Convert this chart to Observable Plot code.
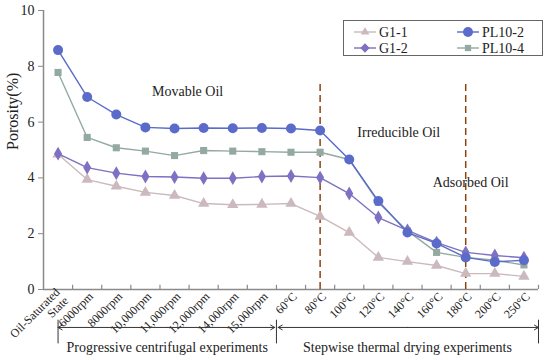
<!DOCTYPE html>
<html><head><meta charset="utf-8">
<script src="https://cdn.jsdelivr.net/npm/d3@7"></script>
<script src="https://cdn.jsdelivr.net/npm/@observablehq/plot@0.6"></script>
<style>
body{margin:0;background:#fff;}
#wrap{position:relative;width:550px;height:360px;font-family:'Liberation Serif','Times New Roman',serif;}
#wrap svg text{font-family:'Liberation Serif','Times New Roman',serif;}
#legend{position:absolute;left:343px;top:20px;width:200px;height:36px;border:1px solid #666;background:#fff;box-sizing:border-box}
</style></head><body>
<div id="wrap"><div id="chart"></div><div id="legend"></div></div>
<script>
const categories = ["Oil-Saturated\nState","6000rpm","8000rpm","10,000rpm","11,000rpm","12,000rpm","14,000rpm","15,000rpm","60°C","80°C","100°C","120°C","140°C","160°C","180°C","200°C","250°C"];
const seriesNames = ["G1-1","G1-2","PL10-2","PL10-4"];
const g1_1  = [4.85,3.94,3.70,3.48,3.37,3.08,3.04,3.05,3.08,2.62,2.04,1.15,1.00,0.86,0.57,0.57,0.47];
const g1_2  = [4.87,4.37,4.17,4.05,4.03,3.99,3.99,4.05,4.07,4.01,3.44,2.58,2.12,1.68,1.33,1.22,1.14];
const pl10_2 = [8.58,6.90,6.27,5.81,5.77,5.79,5.78,5.79,5.77,5.70,4.66,3.17,2.04,1.65,1.15,0.99,1.05];
const pl10_4 = [7.78,5.45,5.08,4.96,4.80,4.98,4.96,4.94,4.92,4.92,4.66,3.12,2.10,1.33,1.15,1.05,0.88];
const yTicks = [0,2,4,6,8,10];
const seriesValues = {"G1-1": g1_1, "G1-2": g1_2, "PL10-2": pl10_2, "PL10-4": pl10_4};
const seriesColors = {"G1-1":"#cbb9bd","G1-2":"#7e70c2","PL10-2":"#5a6bca","PL10-4":"#93a9a2"};
const seriesSymbols = {"G1-1":"triangle","G1-2":"diamond","PL10-2":"circle","PL10-4":"square"};
const seriesR = {"G1-1":4.2,"G1-2":4.2,"PL10-2":5,"PL10-4":4};
const drawOrder = ["G1-1","PL10-4","G1-2","PL10-2"];
const dividers = [{i: 9, top: 7.4}, {i: 14, top: 7.4}];
const regionLabels = [
  {x: 4.45, y: 7.08, text: "Movable Oil", anchor: "middle"},
  {x: 11.7, y: 5.63, text: "Irreducible Oil", anchor: "middle"},
  {x: 14.17, y: 3.83, text: "Adsorbed Oil", anchor: "start"}
];
const brackets = [
  {x1: 0, x2: 7.5, label: "Progressive centrifugal experiments"},
  {x1: 7.5, x2: 16.5, label: "Stepwise thermal drying experiments"}
];
const bracketY = -1.36, bracketTop = -1.1, bracketBottom = -1.95, bracketTextY = -2.08;
const FONT = "'Liberation Serif','Times New Roman',serif";

const rows = [];
for (const s of seriesNames) seriesValues[s].forEach((v, i) => rows.push({series: s, i, value: v}));
const boundaries = d3.range(17).map(i => i + 0.5);

const marks = [
  Plot.ruleY([0], {stroke: "#8a8a8a", strokeWidth: 1.5}),
  Plot.ruleX([-0.5], {y1: 0, y2: 10, stroke: "#8a8a8a", strokeWidth: 1.5}),
  Plot.ruleX(boundaries, {y1: 0, y2: 0.15, stroke: "#8a8a8a", strokeWidth: 1.2}),
  Plot.axisY({ticks: yTicks, tickSize: 5, tickPadding: 4, label: null, fontSize: 14, stroke: "#8a8a8a", fontFamily: FONT}),
  Plot.axisX({ticks: d3.range(17), tickSize: 0, tickPadding: 5, dx: 4, tickRotate: -45, tickFormat: i => categories[i], label: null, fontSize: 12, fontFamily: FONT}),
  Plot.text(["Porosity(%)"], {frameAnchor: "left", rotate: -90, dx: -31, fontSize: 16, fill: "#222", fontFamily: FONT}),
  Plot.ruleX(dividers, {x: "i", y1: 0, y2: "top", stroke: "#8b4513", strokeWidth: 1.5, strokeDasharray: "7,4"}),
  Plot.text(regionLabels, {x: "x", y: "y", text: "text", textAnchor: d => d.anchor, fontSize: 14, fill: "#222", fontFamily: FONT})
];
for (const s of drawOrder) {
  const d = rows.filter(r => r.series === s);
  marks.push(Plot.line(d, {x: "i", y: "value", stroke: seriesColors[s], strokeWidth: 1.4}));
  marks.push(Plot.dot(d, {x: "i", y: "value", symbol: () => seriesSymbols[s], fill: seriesColors[s], stroke: "none", r: seriesR[s]}));
}
for (const b of brackets) {
  const mid = (b.x1 + b.x2) / 2;
  const e1 = b.x1 === 7.5 ? 7.56 : b.x1, e2 = b.x2 === 7.5 ? 7.44 : b.x2;
  marks.push(Plot.arrow([b], {x1: () => mid, x2: () => e1, y1: bracketY, y2: bracketY, stroke: "#333", strokeWidth: 1, headLength: 7}));
  marks.push(Plot.arrow([b], {x1: () => mid, x2: () => e2, y1: bracketY, y2: bracketY, stroke: "#333", strokeWidth: 1, headLength: 7}));
  marks.push(Plot.text([b], {x: () => mid, y: bracketTextY, text: "label", fontSize: 14, fill: "#222", lineAnchor: "middle", fontFamily: FONT}));
}
marks.push(Plot.ruleX([0, 7.5, 16.5], {y1: bracketTop, y2: bracketBottom, stroke: "#333", strokeWidth: 1}));

const plot = Plot.plot({
  width: 550, height: 360,
  marginLeft: 43, marginRight: 12, marginTop: 10, marginBottom: 71,
  style: {fontFamily: FONT, color: "#222", background: "#fff", overflow: "visible"},
  x: {domain: [-0.5, 16.5]},
  y: {domain: [0, 10]},
  symbol: {type: "identity"},
  marks
});
document.getElementById("chart").appendChild(plot);

// legend
const lg = d3.select("#legend").append("svg").attr("width", 198).attr("height", 34)
  .style("font-family", FONT);
const legendPos = [["G1-1", 10, 11], ["G1-2", 10, 27], ["PL10-2", 113, 11], ["PL10-4", 113, 27]];
const symMap = {triangle: d3.symbolTriangle2, diamond: d3.symbolDiamond2, circle: d3.symbolCircle, square: d3.symbolSquare2};
for (const [s, x, y] of legendPos) {
  const c = seriesColors[s];
  lg.append("line").attr("x1", x).attr("x2", x + 22).attr("y1", y).attr("y2", y).attr("stroke", c).attr("stroke-width", 1.4);
  const r = seriesR[s];
  lg.append("path").attr("d", d3.symbol(symMap[seriesSymbols[s]], Math.PI * r * r)()).attr("transform", `translate(${x + 11},${y})`).attr("fill", c);
  lg.append("text").attr("x", x + 25).attr("y", y).attr("dy", "0.35em").attr("font-size", 14).attr("fill", "#222").text(s);
}
</script>
</body></html>
